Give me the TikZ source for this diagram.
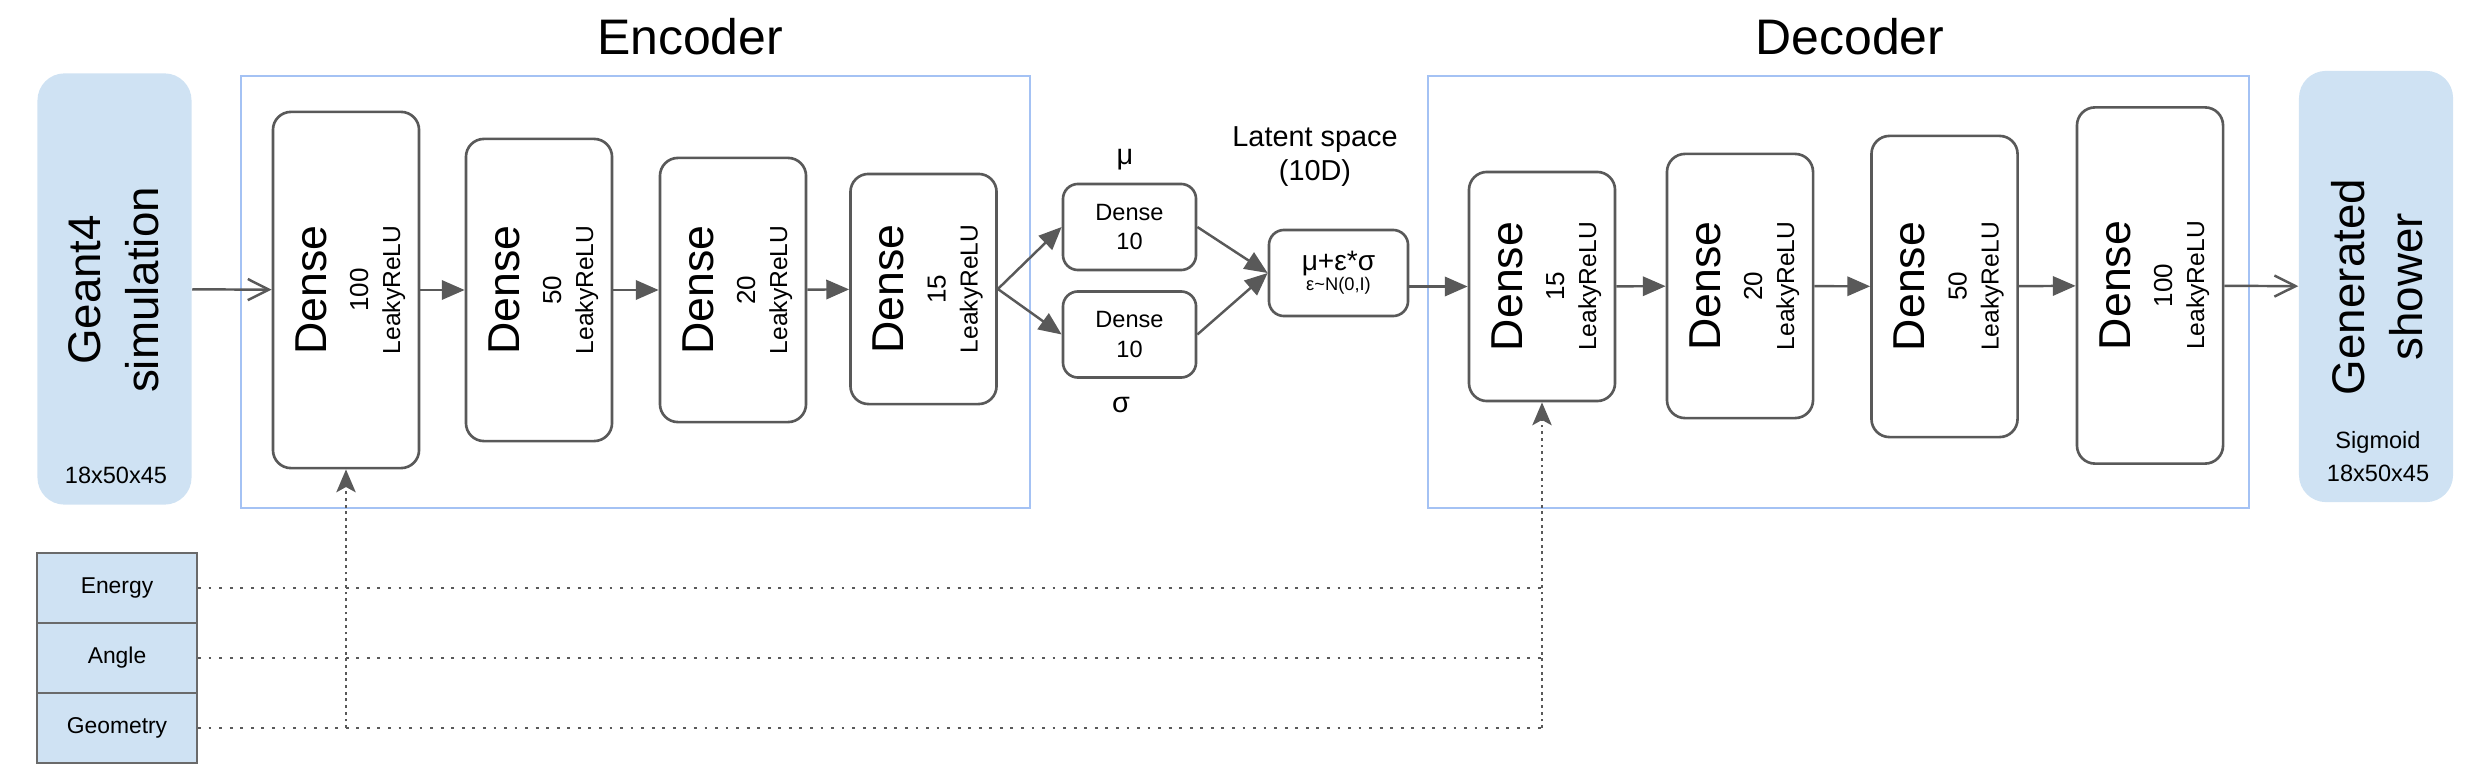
\documentclass[tikz,border=0pt]{standalone}
\usepackage{fontspec}
\setmainfont{Liberation Sans}
\usepackage{xcolor}
\usetikzlibrary{arrows.meta}
\definecolor{linegray}{HTML}{595959}
\definecolor{boxblue}{HTML}{CFE2F3}
\definecolor{frameblue}{HTML}{A4C2F4}

\tikzset{
    frame/.style={draw=frameblue, line width=0.7pt},
    title/.style={anchor=base, font=\fontsize{14.2}{17}\selectfont},
    layer/.style={draw=linegray, line width=0.75pt, rounded corners=0.18cm, minimum width=1.46cm},
    smallbox/.style={draw=linegray, line width=0.75pt, rounded corners=0.15cm, minimum width=1.33cm, minimum height=0.86cm, align=center, font=\fontsize{6.7}{8.5}\selectfont},
    datablock/.style={fill=boxblue, rounded corners=0.27cm, minimum width=1.54cm, minimum height=4.31cm},
    condbox/.style={draw=linegray!90, fill=boxblue, line width=0.6pt, minimum width=1.60cm, minimum height=0.70cm, font=\fontsize{6.5}{8}\selectfont},
    bigrot/.style={rotate=90, align=center, font=\fontsize{13}{16.5}\selectfont},
    densetxt/.style={rotate=90, anchor=base, font=\fontsize{12.7}{15}\selectfont},
    unittxt/.style={rotate=90, anchor=base, font=\fontsize{7.4}{9}\selectfont},
    acttxt/.style={rotate=90, anchor=base, font=\fontsize{7}{9}\selectfont},
    smalltxt/.style={anchor=base, font=\fontsize{6.7}{8}\selectfont},
    midtxt/.style={font=\fontsize{8.2}{9.7}\selectfont},
    flow/.style={draw=linegray, line width=0.7pt, -{Triangle[length=6.5pt,width=5.5pt]}},
    io/.style={draw=linegray, line width=0.7pt, -{Straight Barb[length=6pt,width=6pt]}},
    hint/.style={draw=linegray, line width=0.7pt, dash pattern=on 0.8pt off 2.2pt},
    hintv/.style={draw=linegray, line width=0.7pt, dash pattern=on 0.8pt off 1.1pt, -{Stealth[length=6.5pt,width=5.5pt,inset=1.5pt]}}
}

\begin{document}
\begin{tikzpicture}[x=0.01cm, y=-0.01cm]
    \useasboundingbox (0,0) rectangle (2482,776);

    % encoder and decoder frames
    \draw[frame] (241,76) rectangle (1030,508);
    \draw[frame] (1428,76) rectangle (2249,508);
    \node[title] at (690,55) {Encoder};
    \node[title] at (1850,55) {Decoder};

    % input and output data
    \node[datablock] (geant) at (114.5,289) {};
    \node[bigrot] at (114,290) {Geant4\\simulation};
    \node[smalltxt] at (116,483) {18x50x45};
    \node[datablock] (gen) at (2376,286.5) {};
    \node[bigrot] at (2377,287) {Generated\\shower};
    \node[smalltxt] at (2378,448) {Sigmoid};
    \node[smalltxt] at (2378,481) {18x50x45};

    % dense layers
    \foreach \n/\x/\y/\h/\u in {e1/346/290/3.56/100, e2/539/290/3.02/50, e3/733/290/2.64/20, e4/923.5/289/2.30/15,
                                d1/1542/286.5/2.29/15, d2/1740/286/2.64/20, d3/1944.5/286.5/3.01/50, d4/2150/285.5/3.56/100} {
        \node[layer, minimum height=\h cm] (\n) at (\x,\y) {};
        \node[densetxt] at (\x-20,\y) {Dense};
        \node[unittxt] at (\x+22,\y) {\u};
        \node[acttxt] at (\x+54,\y) {LeakyReLU};
    }

    % latent space
    \node[smallbox] (mu) at (1129.5,227) {Dense\\10};
    \node[smallbox] (sigma) at (1129.5,334.5) {Dense\\10};
    \node[midtxt] at (1125,160) {μ};
    \node[midtxt] at (1121,405) {σ};
    \node[midtxt, align=center] at (1315,157) {Latent space\\(10D)};
    \node[smallbox, minimum width=1.39cm, font=\fontsize{8}{6.8}\selectfont] (latent) at (1338.5,273)
        {μ+ε*σ\\[-1pt]{\fontsize{5.2}{6.8}\selectfont ε\textasciitilde N(0,I)}};

    % conditions
    \node[condbox] (energy) at (117,588) {Energy};
    \node[condbox] (angle) at (117,658) {Angle};
    \node[condbox] (geometry) at (117,728) {Geometry};

    % connections
    \draw[io] (geant) -- (e1);
    \draw[flow] (e1) -- (e2);
    \draw[flow] (e2) -- (e3);
    \draw[flow] (e3) -- (e4);
    \draw[flow] (e4.east) -- (mu.west);
    \draw[flow] (e4.east) -- (sigma.west);
    \draw[flow] (mu.east) -- (latent.west);
    \draw[flow] (sigma.east) -- (latent.west);
    \draw[flow] (latent.east |- d1) -- (d1);
    \draw[flow] (d1) -- (d2);
    \draw[flow] (d2) -- (d3);
    \draw[flow] (d3) -- (d4);
    \draw[io] (d4) -- (gen);

    \draw[hint] (energy) -- (energy -| d1);
    \draw[hint] (angle) -- (angle -| d1);
    \draw[hint] (geometry) -- (geometry -| d1);
    \draw[hintv] (geometry -| e1) -- (e1);
    \draw[hintv] (geometry -| d1) -- (d1);
\end{tikzpicture}
\end{document}
